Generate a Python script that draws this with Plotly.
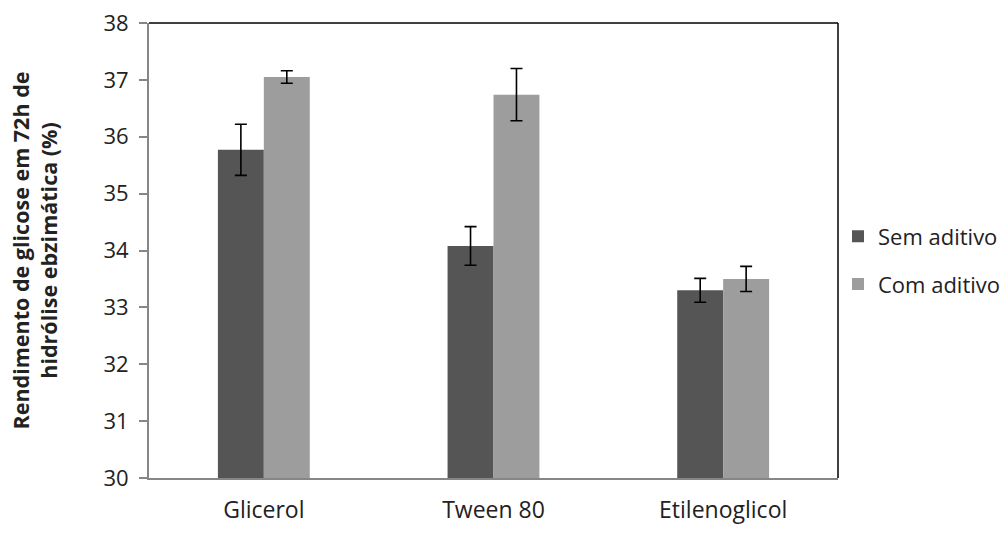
import plotly.graph_objects as go

categories = ["Glicerol", "Tween 80", "Etilenoglicol"]
sem_aditivo = [35.77, 34.08, 33.30]
sem_err = [0.45, 0.34, 0.21]
com_aditivo = [37.05, 36.74, 33.50]
com_err = [0.11, 0.46, 0.22]
y_ticks = [30, 31, 32, 33, 34, 35, 36, 37, 38]

FONT = "Open Sans, sans-serif"

fig = go.Figure()
fig.add_trace(go.Bar(
    x=categories, y=sem_aditivo, name="Sem aditivo", legendgroup="a",
    marker=dict(color="#555555", line=dict(width=0)),
    error_y=dict(type="data", array=sem_err, color="black", thickness=1.6, width=6),
))
fig.add_trace(go.Bar(
    x=categories, y=com_aditivo, name="Com aditivo", legendgroup="b",
    marker=dict(color="#9d9d9d", line=dict(width=0)),
    error_y=dict(type="data", array=com_err, color="black", thickness=1.6, width=6),
))

fig.update_layout(
    width=1006, height=545,
    margin=dict(l=149, r=168, t=23, b=67, autoexpand=False),
    paper_bgcolor="white", plot_bgcolor="white",
    barmode="group", bargap=0.6, bargroupgap=0,
    font=dict(family=FONT, size=23, color="#222222"),
    legend=dict(x=1.0, y=0.478, xanchor="left", yanchor="middle",
                bgcolor="rgba(0,0,0,0)",
                traceorder="grouped", tracegroupgap=16,
                font=dict(size=22, family=FONT), itemwidth=30),
    showlegend=True,
)
fig.update_xaxes(
    showline=True, linecolor="#868686", linewidth=2, automargin=False,
    ticks="", showgrid=False, tickfont=dict(size=23),
    ticklabelstandoff=10,
)
fig.update_yaxes(
    range=[30, 38], tickvals=y_ticks, showgrid=False, automargin=False,
    showline=True, linecolor="#868686", linewidth=2,
    ticks="outside", ticklen=8, tickcolor="#868686", tickwidth=1.5,
    tickfont=dict(size=22), ticklabelstandoff=6,
    title=dict(text="<b>Rendimento de glicose em 72h de<br>hidrólise ebzimática (%)</b>",
               font=dict(size=21.5), standoff=40),
)
# black top and right frame lines
fig.add_shape(type="line", xref="paper", yref="paper", x0=0, x1=1, y0=1, y1=1,
              line=dict(color="black", width=1.5))
fig.add_shape(type="line", xref="paper", yref="paper", x0=1, x1=1, y0=0, y1=1,
              line=dict(color="black", width=1.5))

fig.write_html("out.html")
